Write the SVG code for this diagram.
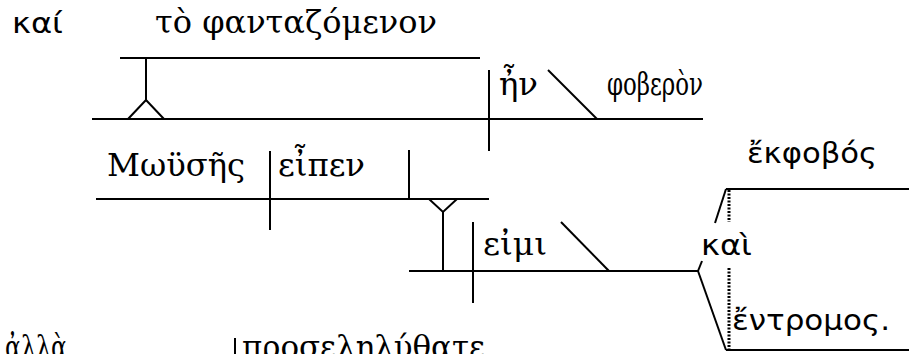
<svg xmlns="http://www.w3.org/2000/svg" width="909" height="354" viewBox="0 0 909 354">
<style>
.ln{stroke:#000;stroke-width:2;fill:none;stroke-linecap:butt}
.dot{stroke:#000;stroke-width:3;fill:none;stroke-dasharray:2 1.5}
.t{font-family:"DejaVu Serif","Liberation Serif",serif;font-size:31px;fill:#000}
.s{font-family:"DejaVu Sans","Liberation Sans",sans-serif;font-size:28px;fill:#000}
</style>
<rect width="909" height="354" fill="#fff"/>
<g id="connectors">
<line class="ln" x1="120" y1="58" x2="480" y2="58"/>
<line class="ln" x1="146" y1="58" x2="146" y2="100"/>
<polyline class="ln" points="128,119 146,100 164,119"/>
<line class="ln" x1="92" y1="119" x2="703" y2="119"/>
<line class="ln" x1="489" y1="70" x2="489" y2="151"/>
<line class="ln" x1="548" y1="70" x2="597" y2="119"/>
<line class="ln" x1="96" y1="199" x2="489" y2="199"/>
<line class="ln" x1="270" y1="151" x2="270" y2="230"/>
<line class="ln" x1="409" y1="150" x2="409" y2="199"/>
<polyline class="ln" points="429,199 443,212 457,199"/>
<line class="ln" x1="443" y1="212" x2="443" y2="271"/>
<line class="ln" x1="409" y1="271" x2="698" y2="271"/>
<line class="ln" x1="473" y1="222" x2="473" y2="303"/>
<line class="ln" x1="561" y1="222" x2="609" y2="271"/>
<line class="ln" x1="698" y1="271" x2="702" y2="261"/>
<line class="ln" x1="715" y1="223" x2="726" y2="189"/>
<line class="ln" x1="698" y1="271" x2="726" y2="350"/>
<line class="ln" x1="726" y1="189" x2="909" y2="189"/>
<line class="ln" x1="726" y1="350" x2="909" y2="350"/>
<line class="dot" x1="729" y1="190" x2="729" y2="222"/>
<line class="dot" x1="729" y1="268" x2="729" y2="350"/>
<line class="ln" x1="235" y1="338" x2="235" y2="354"/>
</g>
<g id="kai1"><text class="s" x="12" y="33" textLength="51" lengthAdjust="spacingAndGlyphs">καί</text></g>
<g id="to-phantazomenon"><text class="t" x="155" y="33" textLength="282" lengthAdjust="spacingAndGlyphs">τὸ φανταζόμενον</text></g>
<g id="en"><text class="t" x="499" y="95" textLength="39" lengthAdjust="spacingAndGlyphs">ἦν</text></g>
<g id="phoberon"><text class="t" x="607" y="95" textLength="96" lengthAdjust="spacingAndGlyphs">φοβερὸν</text></g>
<g id="mouses"><text class="t" x="107" y="176" textLength="138" lengthAdjust="spacingAndGlyphs">Μωϋσῆς</text></g>
<g id="eipen"><text class="t" x="278" y="176" textLength="87" lengthAdjust="spacingAndGlyphs">εἶπεν</text></g>
<g id="eimi"><text class="t" x="483" y="255" textLength="64" lengthAdjust="spacingAndGlyphs">εἰμι</text></g>
<g id="kai2"><text class="s" x="701" y="255" textLength="51" lengthAdjust="spacingAndGlyphs">καὶ</text></g>
<g id="ekphobos"><text class="s" x="747" y="163" textLength="130" lengthAdjust="spacingAndGlyphs">ἔκφοβός</text></g>
<g id="entromos"><text class="s" x="732" y="330" textLength="158" lengthAdjust="spacingAndGlyphs">ἔντρομος.</text></g>
<g id="alla"><text class="t" x="5" y="358" textLength="62" lengthAdjust="spacingAndGlyphs">ἀλλὰ</text></g>
<g id="proselelythate"><text class="t" x="242" y="358" textLength="243" lengthAdjust="spacingAndGlyphs">προσεληλύθατε</text></g>
</svg>
